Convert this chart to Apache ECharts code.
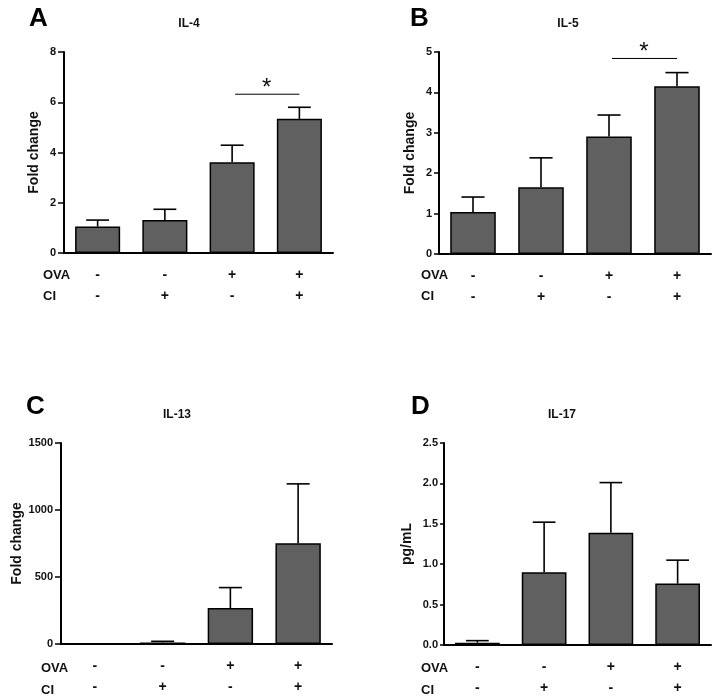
<!DOCTYPE html>
<html>
<head>
<meta charset="utf-8">
<script src="https://cdn.jsdelivr.net/npm/echarts@6/dist/echarts.min.js"></script>
<style>
html,body{margin:0;padding:0;background:#fff;}
#c{width:717px;height:700px;}
</style>
</head>
<body>
<div id="c"></div>
<script>
// ---- data ----
const groups = ['G1', 'G2', 'G3', 'G4'];
const ovaLabels = ['-', '-', '+', '+'];
const ciLabels = ['-', '+', '-', '+'];

const il4Mean = [1.05, 1.31, 3.61, 5.34];
const il4Err  = [0.26, 0.43, 0.68, 0.46];
const il5Mean = [1.04, 1.65, 2.91, 4.15];
const il5Err  = [0.37, 0.73, 0.53, 0.34];
const il13Mean = [1, 12, 268, 751];
const il13Err  = [0.5, 8, 153, 444];
const il17Mean = [0.029, 0.90, 1.39, 0.76];
const il17Err  = [0.025, 0.62, 0.62, 0.29];

const il4Sig = [2, 3, 6.32];
const il5Sig = [2, 3, 4.84];

const panelTitles = ['IL-4', 'IL-5', 'IL-13', 'IL-17'];
const panelLetters = ['A', 'B', 'C', 'D'];
const yNames = ['Fold change', 'Fold change', 'Fold change', 'pg/mL'];
const yMax = [8, 5, 1500, 2.5];
const yInterval = [2, 1, 500, 0.5];

// ---- layout ----
const FONT = 'Arial, "Liberation Sans", sans-serif';
const grids = [
  {left: 64, top: 52, width: 269, height: 201},
  {left: 439, top: 52, width: 272, height: 202},
  {left: 61, top: 443, width: 271, height: 201},
  {left: 444, top: 443, width: 267, height: 202}
];
const nameGaps = [23, 22, 37, 30];
const tickLen = [6, 5, 6, 4];
const means = [il4Mean, il5Mean, il13Mean, il17Mean];
const errs = [il4Err, il5Err, il13Err, il17Err];
const sigs = [il4Sig, il5Sig, null, null];

const xAxes = grids.map((g, i) => ({
  type: 'category', gridIndex: i, data: groups,
  axisLine: {lineStyle: {color: '#000', width: 2}},
  axisTick: {show: false},
  axisLabel: {
    margin: 12, color: '#111', fontFamily: FONT, fontWeight: 'bold', fontSize: 14, lineHeight: 21,
    formatter: (v, idx) => ovaLabels[idx] + '\n' + ciLabels[idx]
  }
}));
const yAxes = grids.map((g, i) => ({
  type: 'value', gridIndex: i, min: 0, max: yMax[i], interval: yInterval[i],
  name: yNames[i], nameLocation: 'middle', nameGap: nameGaps[i],
  nameTextStyle: {fontFamily: FONT, fontWeight: 'bold', fontSize: 14, color: '#111'},
  axisLine: {show: true, lineStyle: {color: '#000', width: 2}},
  axisTick: {show: true, length: tickLen[i], lineStyle: {color: '#000', width: 1.5}},
  splitLine: {show: false},
  axisLabel: {
    margin: tickLen[i] + 2, color: '#111', fontFamily: FONT, fontWeight: 'bold', fontSize: 11,
    formatter: v => i === 3 ? v.toFixed(1) : String(v)
  }
}));

const series = [];
grids.forEach((g, i) => {
  series.push({
    type: 'custom', xAxisIndex: i, yAxisIndex: i, z: 1,
    data: means[i].map((m, k) => [k, m, errs[i][k]]),
    renderItem: (params, api) => {
      const k = api.value(0), m = api.value(1), e = api.value(2);
      const p0 = api.coord([k, m]);
      const p1 = api.coord([k, m + e]);
      const w = api.size([1, 0])[0] * 0.34;
      const st = {stroke: '#000', lineWidth: 1.6};
      return {type: 'group', children: [
        {type: 'line', shape: {x1: p0[0], y1: p0[1], x2: p1[0], y2: p1[1]}, style: st},
        {type: 'line', shape: {x1: p1[0] - w / 2, y1: p1[1], x2: p1[0] + w / 2, y2: p1[1]}, style: st}
      ]};
    }
  });
  series.push({
    type: 'bar', xAxisIndex: i, yAxisIndex: i, z: 2,
    barWidth: '67%', data: means[i],
    itemStyle: {color: '#606060', borderColor: '#000', borderWidth: 1.5}
  });
  if (sigs[i]) {
    series.push({
      type: 'custom', xAxisIndex: i, yAxisIndex: i, z: 3,
      data: [sigs[i]],
      renderItem: (params, api) => {
        const a = api.coord([api.value(0), api.value(2)]);
        const b = api.coord([api.value(1), api.value(2)]);
        return {type: 'group', children: [
          {type: 'line', shape: {x1: a[0] + 3, y1: a[1], x2: b[0], y2: b[1]}, style: {stroke: '#000', lineWidth: 1}},
          {type: 'text', style: {text: '*', x: (a[0] + b[0]) / 2 + 1, y: a[1] - 6, fontSize: 24, fontFamily: FONT, fill: '#111', align: 'center', verticalAlign: 'middle'}}
        ]};
      }
    });
  }
});

const titles = [];
const titlePos = [[189, 25], [568, 25], [177, 416], [562, 416]];
const letterPos = [[29, 6], [410, 6], [26, 394], [411, 394]];
titlePos.forEach((p, i) => {
  titles.push({text: panelTitles[i], left: p[0], top: p[1] - 7, padding: 0, textAlign: 'center',
    textStyle: {fontFamily: FONT, fontWeight: 'bold', fontSize: 12, color: '#111'}});
  titles.push({text: panelLetters[i], left: letterPos[i][0], top: letterPos[i][1], padding: 0,
    textStyle: {fontFamily: FONT, fontWeight: 'bold', fontSize: 26, color: '#000'}});
});

const rowPos = [[43, 274, 295], [421, 274, 295], [41, 667, 689], [421, 667, 689]];
const graphics = [];
rowPos.forEach(r => {
  graphics.push({type: 'text', left: r[0], top: r[1] - 5, style: {text: 'OVA', font: 'bold 13px ' + FONT, fill: '#111'}});
  graphics.push({type: 'text', left: r[0], top: r[2] - 5, style: {text: 'CI', font: 'bold 13px ' + FONT, fill: '#111'}});
});

const chart = echarts.init(document.getElementById('c'), null, {renderer: 'canvas'});
chart.setOption({
  backgroundColor: '#fff',
  animation: false,
  title: titles,
  grid: grids,
  xAxis: xAxes,
  yAxis: yAxes,
  series: series,
  graphic: graphics
});
</script>
</body>
</html>
